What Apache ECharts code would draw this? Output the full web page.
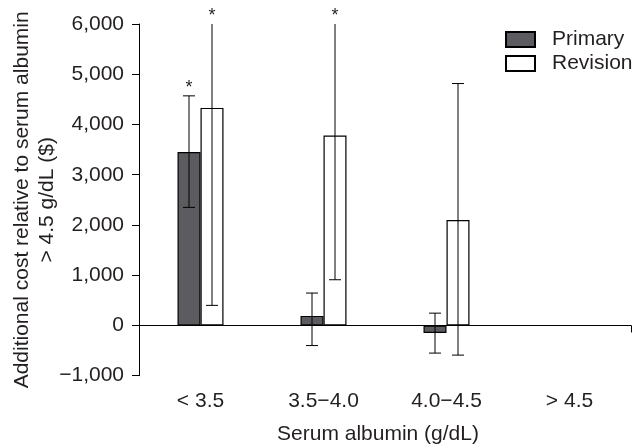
<!DOCTYPE html>
<html>
<head>
<meta charset="utf-8">
<script src="https://cdn.jsdelivr.net/npm/echarts@6/dist/echarts.min.js"></script>
<style>
html,body{margin:0;padding:0;background:#fff;}
#c{width:632px;height:445px;}
</style>
</head>
<body>
<div id="c"></div>
<script>
// ---- data ----
const categories = ['< 3.5', '3.5\u22124.0', '4.0\u22124.5', '> 4.5'];
const yTicks = { min: -1000, max: 6000, interval: 1000 };
const primaryValues = [3450, 190, -150, 0];
const primaryLower = [2350, -400, -550, null];
const primaryUpper = [4570, 645, 245, null];
const primarySig = [true, false, false, false];
const revisionValues = [4330, 3780, 2100, 0];
const revisionLower = [400, 910, -590, null];
const revisionUpper = [6000, 6000, 4815, null];
const revisionSig = [true, true, false, false];
const seriesNames = ['Primary', 'Revision'];

// ---- styles ----
const TXT = '#231f20';
const FONT = 'Liberation Sans, Arial, Helvetica, sans-serif';
const FS = 21;
const BAR_W = 23;

function errData(lower, upper, sig, s) {
  const out = [];
  for (let i = 0; i < categories.length; i++) {
    if (lower[i] == null) continue;
    out.push([i, lower[i], upper[i], s, sig[i] ? 1 : 0]);
  }
  return out;
}
const errorData = errData(primaryLower, primaryUpper, primarySig, 0)
  .concat(errData(revisionLower, revisionUpper, revisionSig, 1));

// reference group (value 0) has no visible bar
const barData = arr => arr.map(v => (v === 0 ? null : v));

function renderError(params, api) {
  const i = api.value(0), lo = api.value(1), hi = api.value(2), s = api.value(3), sig = api.value(4);
  const off = s === 0 ? -BAR_W / 2 : BAR_W / 2;
  const x = api.coord([i, 0])[0] + off;
  const yl = api.coord([i, lo])[1];
  const yh = api.coord([i, hi])[1];
  const st = { stroke: '#000', lineWidth: 1 };
  const cap = 6;
  const children = [
    { type: 'line', shape: { x1: x, y1: yl, x2: x, y2: yh }, style: st },
    { type: 'line', shape: { x1: x - cap, y1: yl, x2: x + cap, y2: yl }, style: st }
  ];
  if (hi < yTicks.max) {
    children.push({ type: 'line', shape: { x1: x - cap, y1: yh, x2: x + cap, y2: yh }, style: st });
  }
  if (sig) {
    children.push({ type: 'text', x: x, y: yh + 1, style: { text: '*', font: '18px ' + FONT, fill: TXT, align: 'center', verticalAlign: 'bottom' } });
  }
  return { type: 'group', children: children };
}

const chart = echarts.init(document.getElementById('c'), null, { renderer: 'canvas' });
chart.setOption({
  animation: false,
  backgroundColor: '#fff',
  textStyle: { fontFamily: FONT, color: TXT },
  grid: { left: 139, right: 1, top: 24, bottom: 69.3, containLabel: false, outerBoundsMode: 'none' },
  legend: {
    data: seriesNames,
    orient: 'vertical',
    left: 500, top: 24,
    itemWidth: 29, itemHeight: 15, itemGap: 3,
    icon: 'rect',
    textStyle: { fontSize: FS, color: TXT, fontFamily: FONT, padding: [0, 0, 0, 12] },
    selectedMode: false
  },
  xAxis: [
    {
      type: 'category', data: categories, position: 'bottom',
      axisLine: { show: false, onZero: false },
      axisTick: { show: false },
      axisLabel: { fontSize: FS, color: TXT, margin: 15, fontFamily: FONT },
      name: 'Serum albumin (g/dL)', nameLocation: 'middle', nameGap: 48, nameMoveOverlap: false,
      nameTextStyle: { fontSize: FS, color: TXT, fontFamily: FONT, padding: [0, 14, 0, 0] }
    },
    {
      type: 'value', min: 0, max: 1, interval: 1, position: 'bottom',
      axisLine: { show: true, onZero: true, lineStyle: { color: '#000', width: 1 } },
      axisTick: { show: true, length: 7, lineStyle: { color: '#000' } },
      axisLabel: { show: false },
      splitLine: { show: false }
    }
  ],
  yAxis: {
    type: 'value', min: yTicks.min, max: yTicks.max, interval: yTicks.interval,
    axisLine: { show: true, onZero: false, lineStyle: { color: '#000', width: 1 } },
    axisTick: { show: true, length: 7, lineStyle: { color: '#000' } },
    splitLine: { show: false },
    axisLabel: {
      fontSize: FS, color: TXT, margin: 15, fontFamily: FONT,
      formatter: v => (v < 0 ? '\u2212' : '') + Math.abs(v).toLocaleString('en-US')
    },
    name: 'Additional cost relative to serum albumin\n> 4.5 g/dL ($)',
    nameLocation: 'middle', nameGap: 79, nameRotate: 90, nameMoveOverlap: false,
    nameTextStyle: { fontSize: FS, color: TXT, fontFamily: FONT, lineHeight: 25 }
  },
  series: [
    {
      name: seriesNames[0], type: 'bar', data: barData(primaryValues), barWidth: BAR_W, barGap: '0%',
      itemStyle: { color: '#5c5c60', borderColor: '#000', borderWidth: 1.2 }
    },
    {
      name: seriesNames[1], type: 'bar', data: barData(revisionValues), barWidth: BAR_W, barGap: '0%',
      itemStyle: { color: '#fff', borderColor: '#000', borderWidth: 1.2 }
    },
    {
      type: 'custom', name: 'err', data: errorData, renderItem: renderError,
      xAxisIndex: 0, yAxisIndex: 0, z: 10, clip: false, silent: true,
      encode: { x: 0, y: [1, 2] }
    }
  ]
});
</script>
</body>
</html>
